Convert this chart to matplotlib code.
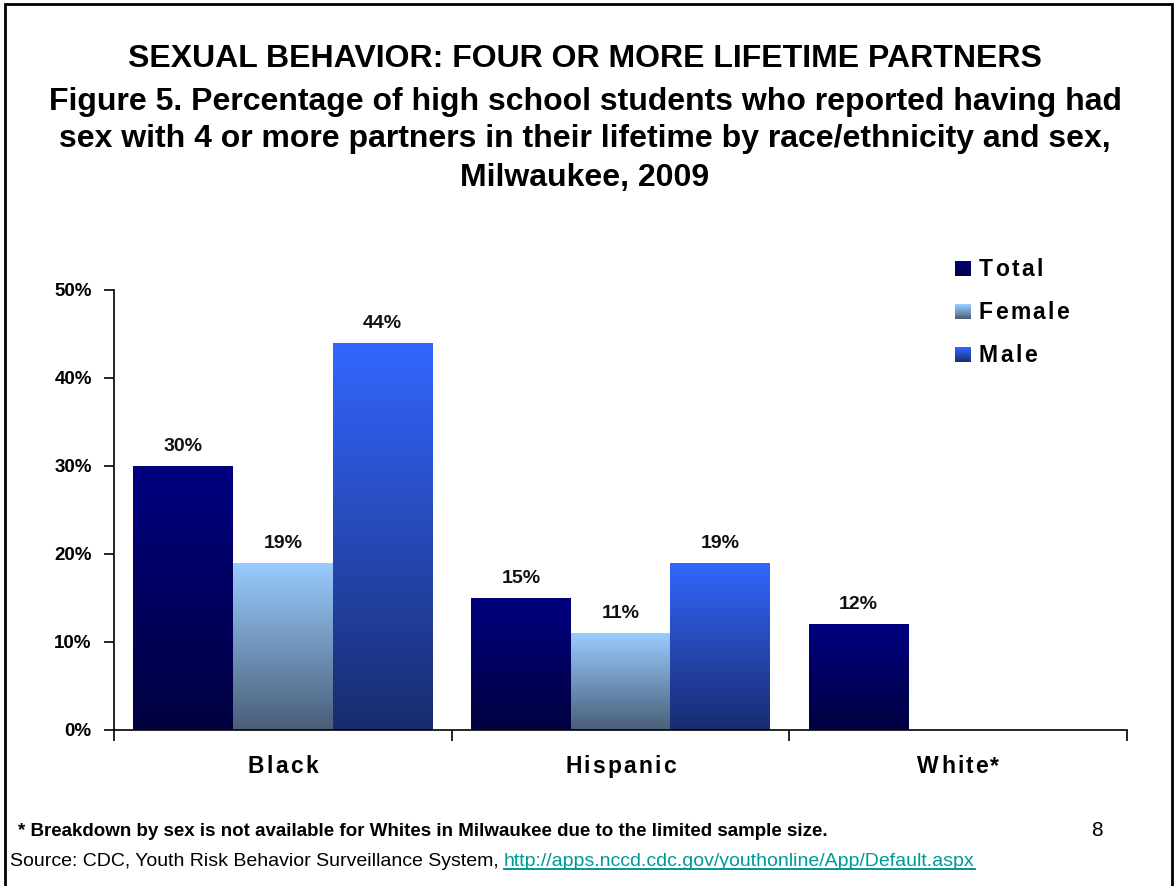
import numpy as np
import matplotlib
matplotlib.use("Agg")
import matplotlib.pyplot as plt
from matplotlib.colors import LinearSegmentedColormap, to_rgb
from matplotlib.patches import Rectangle
from matplotlib.font_manager import FontProperties, findfont, get_font

plt.rcParams['font.family'] = ['Liberation Sans', 'DejaVu Sans']

categories = ["Black", "Hispanic", "White*"]
series = ["Total", "Female", "Male"]
total = [30, 15, 12]
female = [19, 11, None]
male = [44, 19, None]
yticks = [0, 10, 20, 30, 40, 50]

# gradient colours per series: (top, bottom)
grad = {
    "Total": ("#000080", "#00003F"),
    "Female": ("#99CCFF", "#4A5E78"),
    "Male": ("#3366FF", "#182C6E"),
}

W, H, DPI = 1175, 886, 100
fig = plt.figure(figsize=(W / DPI, H / DPI), dpi=DPI)
ax = fig.add_axes([114 / W, 1 - 730 / H, (1127 - 114) / W, (730 - 290) / H])


def tracked_text(x_px, y_px, s, size, track, ha="center", weight="bold", color="black"):
    """Draw text letter by letter with extra spacing; coordinates in pixels from top-left."""
    prop = FontProperties(family="Liberation Sans", weight=weight, size=size)
    font = get_font(findfont(prop))
    font.set_size(size, DPI)
    adv = [font.load_char(ord(c)).linearHoriAdvance / 65536 for c in s]
    total_w = sum(adv) + track * (len(s) - 1)
    start = x_px - total_w / 2 if ha == "center" else x_px
    for c, a in zip(s, adv):
        fig.text(start / W, 1 - y_px / H, c, ha="left", va="baseline",
                 fontproperties=prop, color=color)
        start += a + track


bw = 0.295
offsets = [-bw, 0, bw]
values = [total, female, male]
x = np.arange(len(categories))


def gradient_fill(ax, patch, top, bottom):
    cmap = LinearSegmentedColormap.from_list("g", [bottom, top])
    x0, y0 = patch.get_x(), patch.get_y()
    w, h = patch.get_width(), patch.get_height()
    img = np.linspace(0, 1, 256).reshape(-1, 1)
    im = ax.imshow(img, cmap=cmap, origin="lower", aspect="auto",
                   extent=[x0, x0 + w, y0, y0 + h], zorder=2)
    im.set_clip_path(patch)


for name, vals, off in zip(series, values, offsets):
    top, bottom = grad[name]
    for xi, v in zip(x, vals):
        if v is None:
            continue
        bars = ax.bar(xi + off, v, width=bw, color="none", edgecolor="none", zorder=1)
        gradient_fill(ax, bars[0], top, bottom)
        ax.text(xi + off, v + 1.7, f"{v}%", ha="center", va="baseline",
                fontsize=14, fontweight="bold", color="#111111")

ax.set_xlim(-0.5, 2.5)
ax.set_ylim(0, 50)
ax.set_yticks(yticks)
ax.set_yticklabels([f"{t}%" for t in yticks], fontsize=13.5, fontweight="bold")
ax.set_xticks([-0.5, 0.5, 1.5, 2.5])
ax.set_xticklabels([])
ax.tick_params(axis="x", direction="out", length=8, width=1.2, color="black")
ax.tick_params(axis="y", direction="out", length=7, width=1.2, pad=9)
for s in ["top", "right"]:
    ax.spines[s].set_visible(False)
ax.spines["left"].set_linewidth(1.2)
ax.spines["bottom"].set_linewidth(1.2)
ax.set_facecolor("none")

# category labels, letter-spaced
for xi, cat in zip(x, categories):
    px = ax.transData.transform((xi, 0))[0]
    tracked_text(px, 773, cat, 16.5, 2.2)

# legend drawn with gradient swatches
legend_rows = [276, 319, 362]
for name, yb in zip(series, legend_rows):
    top, bottom = (np.array(to_rgb(c)) for c in grad[name])
    n = 16
    sx, sw, sh = 955, 16, 15
    for i in range(n):
        t = i / (n - 1)
        c = bottom * (1 - t) + top * t
        y0 = yb - sh * (i + 1) / n
        fig.add_artist(Rectangle((sx / W, 1 - (y0 + sh / n + 0.3) / H), sw / W,
                                 (sh / n + 0.3) / H, facecolor=c, edgecolor="none",
                                 transform=fig.transFigure))
    tracked_text(979, yb, name, 16.5, 2.2, ha="left")

title_lines = [
    (59, "SEXUAL BEHAVIOR: FOUR OR MORE LIFETIME PARTNERS"),
    (102, "Figure 5. Percentage of high school students who reported having had"),
    (139, "sex with 4 or more partners in their lifetime by race/ethnicity and sex,"),
    (178, "Milwaukee, 2009"),
]
for yy, t in title_lines:
    fig.text(585 / W, 1 - yy / H, t, ha="center", va="center",
             fontsize=23, fontweight="bold")

fig.text(18 / W, 1 - 831 / H,
         "* Breakdown by sex is not available for Whites in Milwaukee due to the limited sample size.",
         ha="left", va="center", fontsize=13.5, fontweight="bold")
fig.text(1097 / W, 1 - 831 / H, "8", ha="center", va="center", fontsize=15)
src = fig.text(10 / W, 1 - 862 / H,
               "Source: CDC, Youth Risk Behavior Surveillance System, ",
               ha="left", va="center", fontsize=14)
fig.canvas.draw()
bb = src.get_window_extent()
link = fig.text(bb.x1 / W, 1 - 862 / H, "http://apps.nccd.cdc.gov/youthonline/App/Default.aspx",
                ha="left", va="center", fontsize=14, color="#009999")
fig.canvas.draw()
lb = link.get_window_extent()
fig.add_artist(plt.Line2D([lb.x0 / W, lb.x1 / W], [(lb.y0 + 1.5) / H] * 2,
                          color="#009999", lw=1.4, transform=fig.transFigure))

# page frame
fig.add_artist(Rectangle((5 / W, -0.01), 1167 / W, 1 - 4 / H + 0.01,
                         fill=False, edgecolor="black", lw=2,
                         transform=fig.transFigure))

fig.savefig("out.png", dpi=DPI)
